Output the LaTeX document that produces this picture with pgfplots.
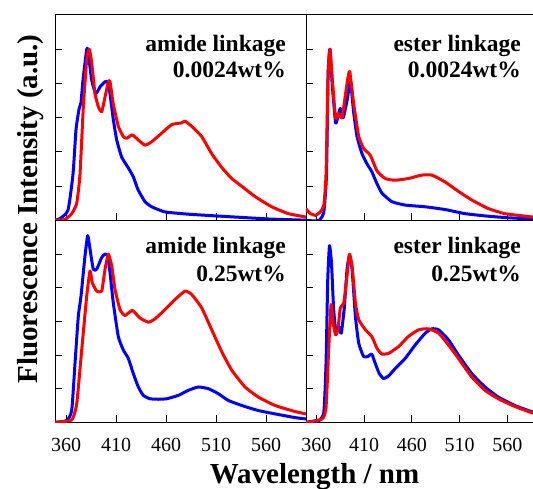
\documentclass[border=0pt]{standalone}
\usepackage{fontspec}
\setmainfont{Liberation Serif}
\usepackage{pgfplots}
\pgfplotsset{compat=1.18}

\pgfplotsset{
  panel/.style={
    scale only axis,
    anchor=south west,
    xmin=349, xmax=600, ymin=0, ymax=1.2,
    xtick={360,410,460,510,560},
    ytick={0.2,0.4,0.6,0.8,1.0},
    yticklabels={},
    xtick pos=bottom, ytick pos=left,
    tick align=inside,
    major tick length=7pt,
    axis line style={line width=1pt},
    every tick/.style={line width=1pt, black},
    /pgf/number format/assume math mode=true,
    /pgf/number format/1000 sep={},
    xticklabel style={font=\fontsize{20}{24}\selectfont, yshift=-12.5pt},
    clip=true,
  },
  bl/.style={blue, line width=3pt, line join=round, smooth, tension=0.3},
  rd/.style={red, line width=3pt, line join=round, smooth, tension=0.3},
}

\begin{document}
\begin{tikzpicture}[x=1pt,y=1pt]
% ---------------- top left: amide 0.0024 ----------------
\begin{axis}[panel, at={(55pt,268.5pt)}, width=251pt, height=205.5pt, xticklabels={}]
\addplot[bl] coordinates {
(349,0.003)(353.7,0.01)(362,0.06)(367,0.27)(370,0.53)(373,0.65)(375,0.69)(377,0.82)(380.7,1.0)(382,0.99)
(385.7,0.82)(389.7,0.74)(394,0.78)(399,0.81)(401.7,0.81)(404,0.74)(407.3,0.59)(410.7,0.47)(415.7,0.37)
(422,0.31)(427.3,0.255)(432,0.18)(439,0.11)(445.7,0.08)(459,0.05)(482,0.037)(509,0.027)(535.7,0.018)
(565.7,0.008)(600,0.002)};
\addplot[rd] coordinates {
(349,0.0)(359,0.006)(365.7,0.04)(370.7,0.1)(374,0.27)(377.3,0.66)(380.7,0.94)(383.3,1.0)(385.7,0.92)
(389,0.74)(392.3,0.665)(395.7,0.635)(399,0.72)(402.3,0.81)(404,0.81)(407.3,0.68)(412.3,0.55)(417.3,0.49)
(420.7,0.48)(426.3,0.50)(432.3,0.47)(439,0.44)(445.7,0.46)(455.7,0.51)(465.7,0.56)(475.7,0.57)(479,0.58)
(485.7,0.55)(495.7,0.49)(505.7,0.39)(515.7,0.31)(525.7,0.245)(535.7,0.20)(549,0.14)(565.7,0.08)
(582.3,0.04)(600,0.02)};
\end{axis}
% ---------------- top right: ester 0.0024 ----------------
\begin{axis}[panel, at={(306pt,268.5pt)}, width=227pt, height=205.5pt, xmax=587,
  axis x line*=box, axis y line*=left, xtick pos=bottom, ytick pos=left, tick align=inside, xticklabels={}]
\addplot[bl] coordinates {
(348.5,0.0)(362.4,0.0)(367.7,0.05)(370.5,0.27)(372.2,0.86)(374,1.0)(376.4,0.80)(380,0.57)(382.6,0.61)
(385,0.655)(388,0.60)(392,0.70)(395.5,0.81)(399,0.63)(402.5,0.49)(407.7,0.39)(413,0.33)(418,0.285)
(423.4,0.215)(428.6,0.16)(439,0.11)(453,0.09)(474,0.08)(494.8,0.064)(515.7,0.04)(540,0.025)(561,0.016)
(587,0.008)};
\addplot[rd] coordinates {
(348.5,0.07)(353.7,0.04)(359,0.03)(364,0.05)(367.7,0.09)(370,0.27)(372.2,0.86)(374.3,1.0)(376.4,0.84)
(380,0.60)(383.3,0.625)(386.8,0.60)(392,0.80)(394.8,0.87)(399,0.68)(404.3,0.49)(409.5,0.42)(416.5,0.38)
(423.4,0.29)(432,0.245)(442.3,0.235)(456.3,0.245)(470.2,0.265)(481,0.265)(494.8,0.225)(508.8,0.17)
(522.7,0.12)(540,0.07)(557.5,0.04)(587,0.02)};
\end{axis}
% ---------------- bottom left: amide 0.25 ----------------
\begin{axis}[panel, at={(55pt,66.7pt)}, width=251pt, height=201.8pt]
\addplot[bl] coordinates {
(349,0.0)(360.7,0.01)(365.7,0.07)(369,0.35)(372.3,0.63)(375,0.75)(379,0.99)(381.7,1.11)(384,1.03)
(387.3,0.91)(390.7,0.91)(395.7,0.98)(399,1.0)(401.7,0.99)(404,0.89)(407.3,0.71)(412.3,0.51)(417.3,0.43)
(422.3,0.38)(427.3,0.29)(432.3,0.21)(437.3,0.16)(444,0.14)(452.3,0.137)(460.7,0.14)(472.3,0.16)
(482.3,0.19)(492.3,0.21)(502.3,0.20)(512.3,0.17)(522.3,0.13)(535.7,0.10)(552.3,0.07)(569,0.05)
(589,0.028)(600,0.02)};
\addplot[rd] coordinates {
(349,0.0)(365.7,0.014)(370.7,0.11)(375.7,0.43)(380.7,0.75)(384,0.90)(386.3,0.83)(390.7,0.78)(395.7,0.78)
(399,0.91)(402.3,1.0)(405.7,0.93)(409,0.79)(414,0.67)(419,0.635)(426.3,0.665)(434,0.62)(442.3,0.595)
(449,0.615)(459,0.67)(469,0.73)(479,0.78)(485.7,0.76)(495.7,0.68)(505.7,0.55)(515.7,0.42)(525.7,0.31)
(539,0.21)(552.3,0.15)(569,0.10)(589,0.064)(600,0.05)};
\end{axis}
% ---------------- bottom right: ester 0.25 ----------------
\begin{axis}[panel, at={(306pt,66.7pt)}, width=227pt, height=201.8pt, xmax=587,
  axis x line*=box, axis y line*=left, xtick pos=bottom, ytick pos=left, tick align=inside]
\addplot[bl] coordinates {
(348.5,0.0)(362.4,0.01)(367.7,0.06)(370,0.35)(371.8,0.85)(373.6,1.05)(375.7,0.95)(378,0.67)(380.6,0.53)
(383.3,0.57)(386,0.53)(389.3,0.69)(392,0.91)(394.5,0.99)(397.3,0.91)(400.8,0.63)(404.3,0.47)(409.5,0.39)
(414.7,0.394)(418,0.406)(421.6,0.35)(425.8,0.29)(430.4,0.26)(435.6,0.276)(442.6,0.32)(453,0.38)
(463.5,0.46)(474,0.53)(481,0.556)(488,0.55)(498.4,0.49)(508.8,0.40)(522.7,0.29)(536.7,0.21)(550.6,0.15)
(568,0.10)(587,0.06)};
\addplot[rd] coordinates {
(348.5,0.0)(366,0.02)(370,0.09)(372.9,0.45)(375.3,0.70)(377.4,0.59)(380,0.52)(382.4,0.55)(385,0.68)
(388.6,0.71)(392,0.87)(394.5,1.0)(397.3,0.93)(400.8,0.71)(404.3,0.61)(411.3,0.55)(418,0.51)(423.4,0.44)
(428.6,0.406)(435.6,0.41)(446,0.45)(456.3,0.51)(467,0.55)(477.4,0.556)(488,0.53)(498.4,0.46)(508.8,0.38)
(522.7,0.27)(536.7,0.19)(550.6,0.14)(568,0.094)(587,0.054)};
\end{axis}
% ---------------- texts ----------------
\begin{scope}[every node/.style={inner sep=0pt, anchor=base east, font=\fontsize{23.5}{28}\selectfont\bfseries}]
\node at (286pt,437.3pt) {amide linkage};
\node at (286pt,411.7pt) {0.0024wt\%};
\node at (521pt,437.3pt) {ester linkage};
\node at (521pt,411.7pt) {0.0024wt\%};
\node at (286pt,235pt) {amide linkage};
\node at (286pt,207.3pt) {0.25wt\%};
\node at (521pt,235pt) {ester linkage};
\node at (521pt,207.3pt) {0.25wt\%};
\end{scope}
\node[inner sep=0pt, anchor=base, font=\fontsize{29}{34}\selectfont\bfseries] at (314.5pt,5.7pt) {Wavelength / nm};
\node[inner sep=0pt, anchor=base, rotate=90, font=\fontsize{29}{34}\selectfont\bfseries] at (38pt,280pt) {Fluorescence Intensity (a.u.)};
\pgfresetboundingbox
\path[use as bounding box] (0,0) rectangle (533pt,489pt);
\end{tikzpicture}
\end{document}
